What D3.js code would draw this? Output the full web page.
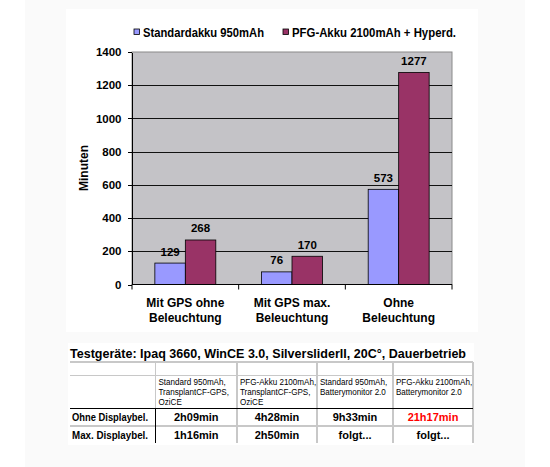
<!DOCTYPE html>
<meta charset="utf-8">
<style>
body{ margin:0; background:#fff; }
text{ font-family: Arial, "Liberation Sans", sans-serif; fill:#000; }
.bold{ font-weight:bold; }
.grid line{ stroke:#111; stroke-width:1px; }
.axis path, .axis line{ stroke:#000; shape-rendering:crispEdges; }
.bar{ stroke:#000; stroke-width:0.8px; }
.tline{ stroke:#c8c8c8; stroke-width:1.2px; shape-rendering:crispEdges; }
.tthick{ stroke:#000; stroke-width:1.5px; shape-rendering:crispEdges; }
</style>
<body>
<div id="chart"></div>

<script src="https://d3js.org/d3.v7.min.js"></script>
<script>
// chart data
var categories = [["Mit GPS ohne","Beleuchtung"],["Mit GPS max.","Beleuchtung"],["Ohne","Beleuchtung"]];
var seriesNames = ["Standardakku 950mAh","PFG-Akku 2100mAh + Hyperd."];
var seriesColors = ["#9999ff","#993366"];
var standardValues = [129, 76, 573];
var pfgValues = [268, 170, 1277];
var yTicks = [0,200,400,600,800,1000,1200,1400];

// table data
var tableTitle = "Testgeräte: Ipaq 3660, WinCE 3.0, SilversliderII, 20C°, Dauerbetrieb";
var colHeaders = [[],
    ["Standard 950mAh,","TransplantCF-GPS,","OziCE"],
    ["PFG-Akku 2100mAh,","TransplantCF-GPS,","OziCE"],
    ["Standard 950mAh,","Batterymonitor 2.0"],
    ["PFG-Akku 2100mAh,","Batterymonitor 2.0"]];
var rowLabels = ["Ohne Displaybel.","Max. Displaybel."];
var rowOhne = ["2h09min","4h28min","9h33min","21h17min"];
var rowMax = ["1h16min","2h50min","folgt...","folgt..."];
var highlight = "21h17min";

var svg = d3.select("#chart").append("svg").attr("width",550).attr("height",467);

// backgrounds
svg.append("rect").attr("x",25).attr("y",0).attr("width",500).attr("height",467).attr("fill","#fafafa");
svg.append("rect").attr("x",66).attr("y",9).attr("width",412).attr("height",323).attr("fill","#fff");
svg.append("rect").attr("x",68).attr("y",343).attr("width",406).attr("height",102).attr("fill","#fff");

// scales
var keys = categories.map(function(c){ return c.join(" "); });
var x0 = d3.scaleBand().domain(keys).range([132, 452]);
var x1 = d3.scaleBand().domain([0,1]).range([0, x0.bandwidth()]).paddingOuter(0.75);
var y = d3.scaleLinear().domain([0,1400]).range([284.5, 52]);

var data = keys.map(function(k,i){ return {key:k, values:[standardValues[i], pfgValues[i]]}; });

// plot area
svg.append("rect").attr("x",x0.range()[0]).attr("y",y(1400))
    .attr("width",x0.range()[1]-x0.range()[0]).attr("height",y(0)-y(1400))
    .attr("fill","#c4c3c7").attr("stroke","#8a8a8a");

svg.append("g").attr("class","grid").selectAll("line")
    .data(yTicks.filter(function(t){ return t>0 && t<1400; }))
    .enter().append("line")
    .attr("x1",x0.range()[0]).attr("x2",x0.range()[1])
    .attr("y1",function(d){ return Math.round(y(d))+0.5; })
    .attr("y2",function(d){ return Math.round(y(d))+0.5; });

// bars
var groups = svg.append("g").selectAll("g").data(data).enter().append("g")
    .attr("transform",function(d){ return "translate("+x0(d.key)+",0)"; });

groups.selectAll("rect").data(function(d){ return d.values; }).enter().append("rect")
    .attr("class","bar")
    .attr("x",function(d,i){ return x1(i); })
    .attr("width",x1.bandwidth())
    .attr("y",function(d){ return y(d); })
    .attr("height",function(d){ return y(0)-y(d); })
    .attr("fill",function(d,i){ return seriesColors[i]; });

groups.selectAll("text").data(function(d){ return d.values; }).enter().append("text")
    .attr("class","bold")
    .attr("x",function(d,i){ return x1(i)+x1.bandwidth()/2; })
    .attr("y",function(d){ return y(d)-7.5; })
    .attr("text-anchor","middle")
    .style("font-size","11.5px")
    .text(function(d){ return d; });

// y axis
var yAxis = svg.append("g").attr("class","axis")
    .attr("transform","translate("+(x0.range()[0]-0.5)+",0)")
    .call(d3.axisLeft(y).tickValues(yTicks).tickFormat(d3.format("d"))
        .tickSize(4).tickSizeOuter(0).tickPadding(6));
yAxis.selectAll("text").attr("class","bold").style("font-size","11.5px");

// x axis
svg.append("line").attr("class","axis")
    .attr("x1",x0.range()[0]).attr("x2",x0.range()[1])
    .attr("y1",y(0)).attr("y2",y(0)).attr("stroke","#000");
svg.append("g").selectAll("line")
    .data(keys.map(function(k){ return x0(k); }).concat([x0.range()[1]]))
    .enter().append("line")
    .attr("x1",function(d){ return d; }).attr("x2",function(d){ return d; })
    .attr("y1",y(0)).attr("y2",y(0)+5).attr("stroke","#000");

var xl = svg.append("g").selectAll("text").data(categories).enter().append("text")
    .attr("class","bold")
    .attr("text-anchor","middle")
    .attr("x",function(d,i){ return x0(keys[i])+x0.bandwidth()/2; })
    .attr("y",307)
    .style("font-size","12px");
xl.append("tspan").text(function(d){ return d[0]; });
xl.append("tspan").attr("x",function(d,i){ return x0(keys[i])+x0.bandwidth()/2; })
    .attr("dy",14.5).text(function(d){ return d[1]; });

// y title
svg.append("text").attr("class","bold")
    .attr("transform","translate(88,168) rotate(-90)")
    .attr("text-anchor","middle").style("font-size","12px").text("Minuten");

// legend
var legX = [134, 283];
var legW = [121, 164];
var leg = svg.append("g").selectAll("g").data(seriesNames).enter().append("g")
    .attr("transform",function(d,i){ return "translate("+legX[i]+",29)"; });
leg.append("rect").attr("width",5.5).attr("height",5.5)
    .attr("fill",function(d,i){ return seriesColors[i]; }).attr("stroke","#000").attr("stroke-width",0.8);
leg.append("text").attr("class","bold").attr("x",9).attr("y",8)
    .style("font-size","12.5px")
    .attr("textLength",function(d,i){ return legW[i]; }).attr("lengthAdjust","spacingAndGlyphs")
    .text(function(d){ return d; });

// table
svg.append("text").attr("class","bold").attr("x",70).attr("y",358)
    .style("font-size","13.5px")
    .attr("textLength",396).attr("lengthAdjust","spacingAndGlyphs")
    .text(tableTitle);

var colEdges = [70, 155.5, 237, 317, 393, 473];
var rowEdges = [362, 375.5, 408.5, 426, 443];
var tg = svg.append("g");

// thin horizontal lines
tg.selectAll(".h").data([rowEdges[0], rowEdges[1], rowEdges[3]]).enter().append("line")
    .attr("class","tline")
    .attr("x1",colEdges[0]).attr("x2",colEdges[5])
    .attr("y1",function(d){ return d; }).attr("y2",function(d){ return d; });
// thin vertical lines
tg.selectAll(".v").data(colEdges.slice(1)).enter().append("line")
    .attr("class","tline")
    .attr("x1",function(d){ return d; }).attr("x2",function(d){ return d; })
    .attr("y1",rowEdges[0]).attr("y2",function(d,i){ return i===0 ? rowEdges[2] : rowEdges[4]; });
tg.append("line").attr("class","tthick")
    .attr("x1",colEdges[0]).attr("x2",colEdges[5]).attr("y1",rowEdges[2]).attr("y2",rowEdges[2]);
tg.append("line").attr("class","tthick")
    .attr("x1",colEdges[1]).attr("x2",colEdges[1]).attr("y1",rowEdges[2]).attr("y2",rowEdges[4]);

// column headers (narrow font look)
colHeaders.forEach(function(lines, c){
    tg.selectAll(null).data(lines).enter().append("text")
        .attr("transform",function(d,i){
            return "translate("+(colEdges[c]+3)+","+(385 + i*9.8)+") scale(0.85,1)";
        })
        .style("font-size","9.5px")
        .text(function(d){ return d; });
});

// rows
[rowOhne, rowMax].forEach(function(vals, r){
    var base = (rowEdges[r+2] + rowEdges[r+3]) / 2 + 4;
    tg.append("text").attr("class","bold").attr("x",72).attr("y",base)
        .style("font-size","10px").attr("textLength",76).attr("lengthAdjust","spacingAndGlyphs")
        .text(rowLabels[r]);
    tg.selectAll(null).data(vals).enter().append("text")
        .attr("class","bold")
        .attr("text-anchor","middle")
        .attr("x",function(d,i){ return (colEdges[i+1]+colEdges[i+2])/2; })
        .attr("y",base)
        .style("font-size","11px")
        .style("fill",function(d){ return d===highlight ? "#ff0000" : "#000"; })
        .text(function(d){ return d; });
});
</script>
</body>
</html>
